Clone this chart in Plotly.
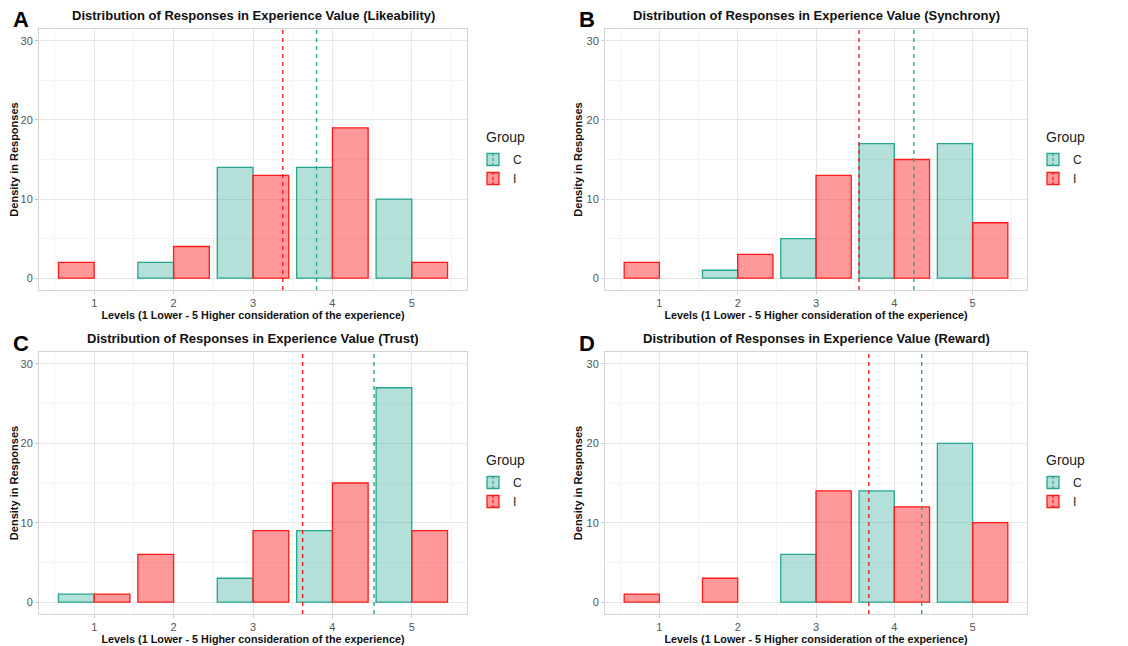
import plotly.graph_objects as go

levels = [1, 2, 3, 4, 5]
groups = ["C", "I"]

likeability_C = [0, 2, 14, 14, 10]
likeability_I = [2, 4, 13, 19, 2]
synchrony_C = [0, 1, 5, 17, 17]
synchrony_I = [2, 3, 13, 15, 7]
trust_C = [1, 0, 3, 9, 27]
trust_I = [1, 6, 9, 15, 9]
reward_C = [0, 0, 6, 14, 20]
reward_I = [1, 3, 14, 12, 10]

panel_letters = ["A", "B", "C", "D"]
panel_titles = [
    "Distribution of Responses in Experience Value (Likeability)",
    "Distribution of Responses in Experience Value (Synchrony)",
    "Distribution of Responses in Experience Value (Trust)",
    "Distribution of Responses in Experience Value (Reward)",
]
x_title = "Levels (1 Lower - 5 Higher consideration of the experience)"
y_title = "Density in Responses"
legend_title = "Group"

panels = [
    (likeability_C, likeability_I),
    (synchrony_C, synchrony_I),
    (trust_C, trust_I),
    (reward_C, reward_I),
]

FONT = "Liberation Sans, Arial, Helvetica, sans-serif"
fill = {"C": "rgba(32,163,140,0.34)", "I": "rgba(255,0,0,0.40)"}
outline = {"C": "#26A68E", "I": "#FF1A1A"}

# page body has an 8px margin; figure fills the window from there
OFF = 8
W, H = 1112, 638


def px(xp):
    return (xp - OFF) / W


def py(yp):
    return 1 - (yp - OFF) / H


# plot-area boxes in window pixels (left, right, top, bottom)
boxes = [
    (39, 467, 29, 290),
    (605, 1027, 29, 290),
    (39, 467, 352, 614),
    (605, 1027, 352, 614),
]

fig = go.Figure()
layout = {}
annotations = []
shapes = []
BAR_W = 0.45

for i, ((cvals, ivals), box) in enumerate(zip(panels, boxes)):
    n = "" if i == 0 else str(i + 1)
    xa, ya = "x" + n, "y" + n
    leg = "legend" + n
    series = {"C": cvals, "I": ivals}
    for g in groups:
        other = series["I" if g == "C" else "C"]
        xs, ys, offs = [], [], []
        for lv, v, ov in zip(levels, series[g], other):
            if v == 0:
                continue
            xs.append(lv)
            ys.append(v)
            # position_dodge(preserve="single"): lone bar takes the left slot
            if g == "C" or ov == 0:
                offs.append(-BAR_W)
            else:
                offs.append(0.0)
        fig.add_trace(go.Bar(
            x=xs, y=ys, width=BAR_W, offset=offs, name=g,
            marker=dict(color=fill[g], line=dict(color=outline[g], width=1.3)),
            xaxis=xa, yaxis=ya, legend=leg, showlegend=True,
        ))
    # mean lines
    for g in groups:
        vals = series[g]
        mean = sum(l * v for l, v in zip(levels, vals)) / sum(vals)
        shapes.append(dict(
            type="line", xref=xa, yref=ya + " domain", x0=mean, x1=mean, y0=0, y1=1,
            line=dict(color=outline[g], width=1.4, dash="4px,4px"), layer="above",
        ))
    l, r, t, b = box
    dom_x = [px(l), px(r)]
    dom_y = [py(b), py(t)]
    axis_common = dict(
        showline=True, mirror=True, linecolor="#d4d4d4", linewidth=1,
        showgrid=True, gridcolor="#e6e6e6", gridwidth=1, zeroline=False,
        ticks="outside", ticklen=3, tickcolor="#c8c8c8", tickwidth=1,
        tickfont=dict(family=FONT, size=11, color="#555555"),
        automargin=False,
    )
    layout["xaxis" + n] = dict(
        axis_common, domain=dom_x, range=[0.305, 5.695], tickvals=levels,
        anchor=ya,
        minor=dict(dtick=0.5, tick0=0.5, showgrid=True, gridcolor="#f3f3f3", gridwidth=1),
        title=dict(text="<b>" + x_title + "</b>", font=dict(family=FONT, size=10.8, color="#111111"), standoff=2),
    )
    layout["yaxis" + n] = dict(
        axis_common, domain=dom_y, range=[-1.5, 31.5], tickvals=[0, 10, 20, 30],
        anchor=xa,
        minor=dict(dtick=5, tick0=0, showgrid=True, gridcolor="#f3f3f3", gridwidth=1),
        title=dict(text="<b>" + y_title + "</b>", font=dict(family=FONT, size=11, color="#111111"), standoff=1),
    )
    layout[leg] = dict(
        x=px(r + 6), y=py(t + 116), xanchor="left", yanchor="top",
        font=dict(family=FONT, size=12, color="#222222"),
        bgcolor="rgba(0,0,0,0)", tracegroupgap=0, itemwidth=30,
    )
    # dashed mean-line glyph through each legend key
    for k, g in enumerate(groups):
        shapes.append(dict(
            type="line", xref="paper", yref="paper",
            x0=px(r + 26), x1=px(r + 26),
            y0=py(t + 124 + 19 * k), y1=py(t + 136 + 19 * k),
            line=dict(color=outline[g], width=1.2, dash="3px,2px"), layer="above",
        ))
    annotations.append(dict(
        text=legend_title, xref="paper", yref="paper",
        x=px(r + 17), y=py(t + 108), xanchor="left", yanchor="middle",
        showarrow=False, font=dict(family=FONT, size=14, color="#222222"),
    ))
    annotations.append(dict(
        text="<b>" + panel_titles[i] + "</b>", xref="paper", yref="paper",
        x=px((l + r) / 2), y=py(t - 14), xanchor="center", yanchor="middle",
        showarrow=False, font=dict(family=FONT, size=13, color="#111111"),
    ))
    annotations.append(dict(
        text="<b>" + panel_letters[i] + "</b>", xref="paper", yref="paper",
        x=px(l - 28), y=py(t - 9), xanchor="left", yanchor="middle",
        showarrow=False, font=dict(family=FONT, size=22, color="#000000"),
    ))

fig.update_layout(
    width=W, height=H, margin=dict(l=0, r=0, t=0, b=0, autoexpand=False),
    paper_bgcolor="white", plot_bgcolor="white", barmode="overlay",
    annotations=annotations, shapes=shapes, showlegend=True,
    **layout,
)
fig.write_html("out.html")
